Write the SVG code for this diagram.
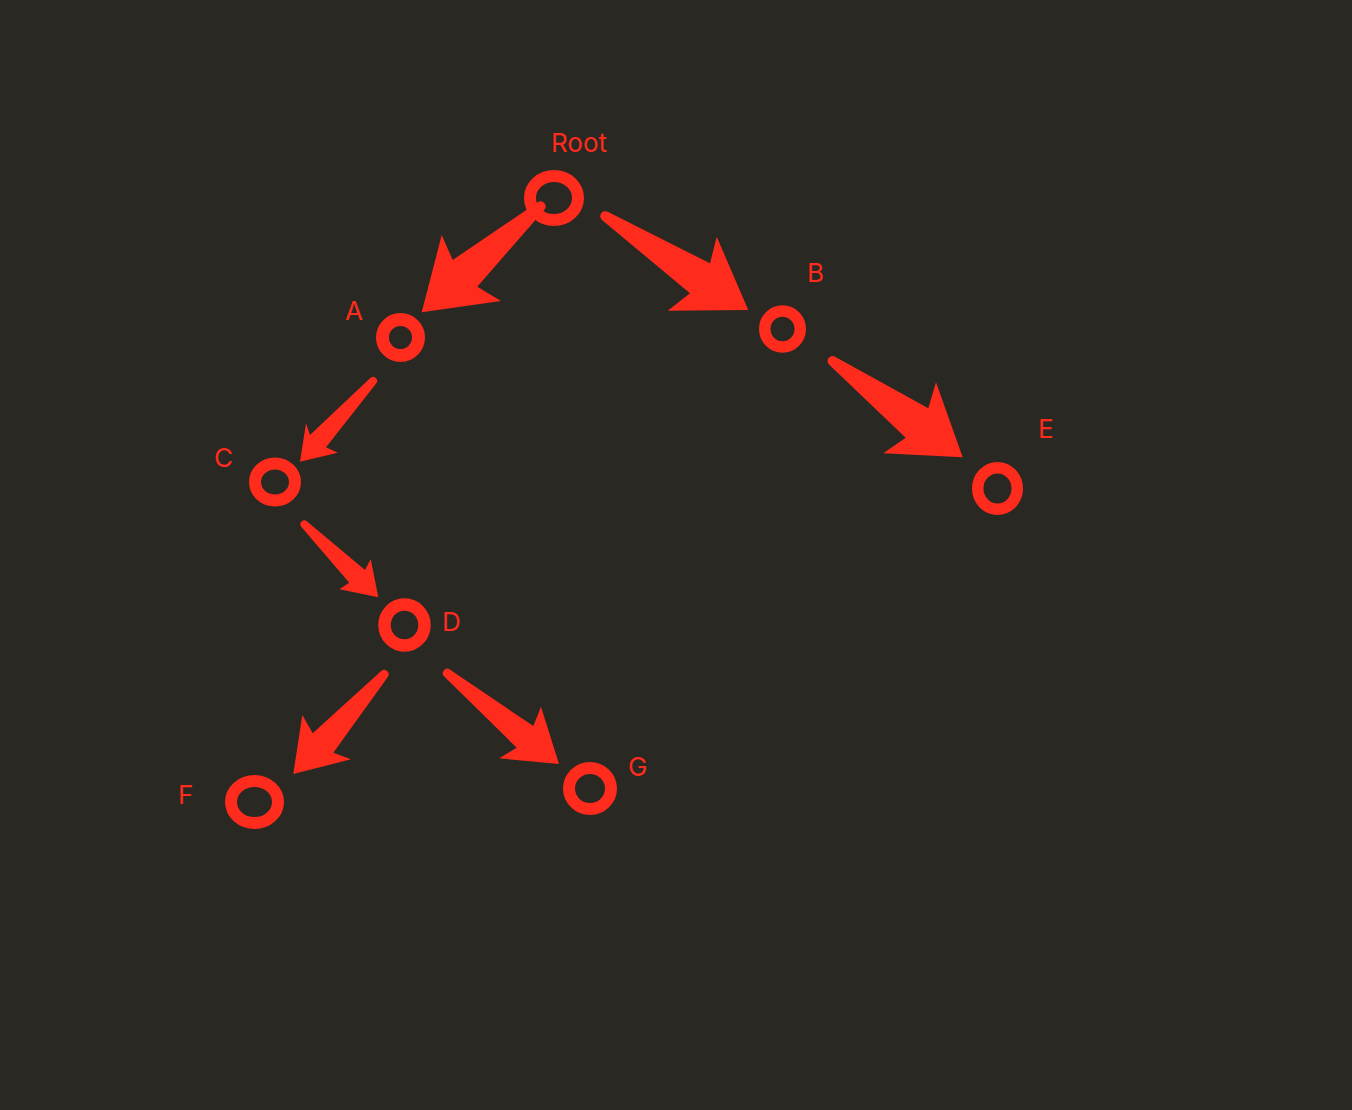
<svg xmlns="http://www.w3.org/2000/svg" width="1352" height="1110" viewBox="0 0 1352 1110">
<style>
.bg{fill:#292823}
.node{fill:none;stroke:#ff2b1c}
.lbl{fill:#ff2b1c;font-family:Inter,"Liberation Sans",sans-serif;font-size:26px}
.arrow{fill:#ff2b1c;stroke:none}
</style>
<rect class="bg" x="0" y="0" width="1352" height="1110"/>
<g id="nodes">
<g id="node-root"><ellipse class="node" cx="554" cy="198" rx="24" ry="22" stroke-width="12"/><text class="lbl" x="551" y="152">Root</text></g>
<g id="node-a"><ellipse class="node" cx="400.5" cy="337.5" rx="18" ry="18" stroke-width="13"/><text class="lbl" x="345" y="320">A</text></g>
<g id="node-b"><ellipse class="node" cx="782.5" cy="329" rx="17.75" ry="18" stroke-width="11.5"/><text class="lbl" x="807" y="282">B</text></g>
<g id="node-e"><ellipse class="node" cx="997.5" cy="488.5" rx="19.75" ry="20.75" stroke-width="11.5"/><text class="lbl" x="1038" y="438">E</text></g>
<g id="node-c"><ellipse class="node" cx="275" cy="482" rx="20" ry="18.5" stroke-width="12"/><text class="lbl" x="214" y="467">C</text></g>
<g id="node-d"><ellipse class="node" cx="404.5" cy="625" rx="20" ry="20.5" stroke-width="12.5"/><text class="lbl" x="442" y="631">D</text></g>
<g id="node-f"><ellipse class="node" cx="254.5" cy="802" rx="23.5" ry="21" stroke-width="12"/><text class="lbl" x="178" y="804">F</text></g>
<g id="node-g"><ellipse class="node" cx="590" cy="788.5" rx="21" ry="20.5" stroke-width="12"/><text class="lbl" x="628" y="776">G</text></g>
</g>
<g id="connectors">
<path class="arrow" d="M537.7,202.3 L452.7,260 L441.7,235 L421.7,312.3 L501,301 L477.3,286.7 L544.3,209.7 A5,5 0 0 0 537.7,202.3 Z"/>
<path class="arrow" d="M602.3,220.2 L690,293.3 L667.7,310.7 L748.3,310 L716.7,236.7 L710,263.3 L607.7,211.8 A5,5 0 0 0 602.3,220.2 Z"/>
<path class="arrow" d="M829.5,365 L905.7,437.7 L883.3,453.3 L962.7,457.3 L936,382.3 L928.3,408.3 L835.5,357 A5,5 0 0 0 829.5,365 Z"/>
<path class="arrow" d="M370,378.3 L310,435 L306,423.3 L300,461.7 L337.7,452.7 L326,447.3 L376,383.7 A4,4 0 0 0 370,378.3 Z"/>
<path class="arrow" d="M301.2,526.8 L349.3,582.7 L339.3,589.3 L378.3,597.3 L370.7,559 L365,570 L306.8,521.2 A4,4 0 0 0 301.2,526.8 Z"/>
<path class="arrow" d="M381.2,671 L312.7,733.3 L302.3,715 L293.3,774 L351,759.3 L333.3,752.7 L387.8,677 A4.5,4.5 0 0 0 381.2,671 Z"/>
<path class="arrow" d="M444.2,676.5 L516.7,747.7 L499.3,758.3 L559,764 L541,706.7 L533.3,726 L449.8,669.5 A4.5,4.5 0 0 0 444.2,676.5 Z"/>
</g>
</svg>
